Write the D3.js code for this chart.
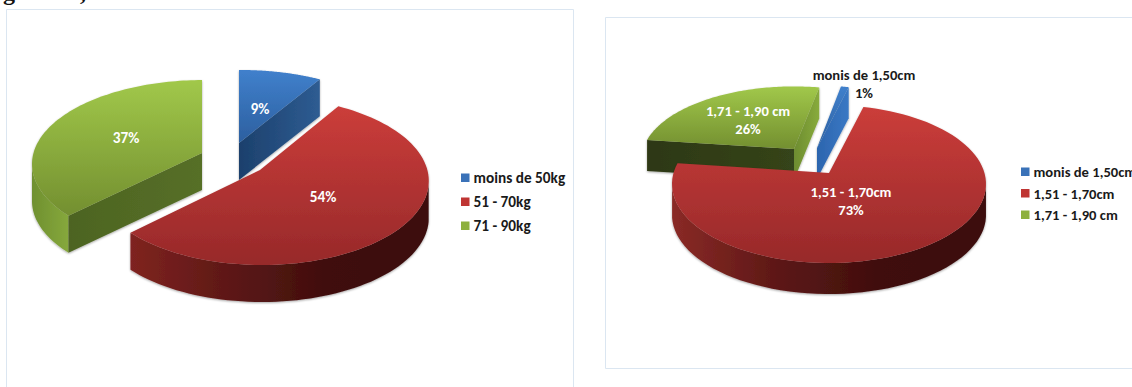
<!DOCTYPE html>
<html>
<head>
<meta charset="utf-8">
<script src="https://cdn.jsdelivr.net/npm/d3@7"></script>
<style>
html,body{margin:0;padding:0;background:#fff;overflow:hidden}
svg{display:block}
text{font-family:Carlito,"Open Sans","Noto Sans",sans-serif}
</style>
</head>
<body>
<svg id="view" width="1132" height="387"></svg>
<script>
// Weight distribution
const weightCategories = ["moins de 50kg", "51 - 70kg", "71 - 90kg"];
const weightValues = [9, 54, 37];
// Height distribution
const heightCategories = ["monis de 1,50cm", "1,51 - 1,70cm", "1,71 - 1,90 cm"];
const heightValues = [1, 73, 26];

const topRamps = [["#4080cc","#2c5f9f"],["#cb3d3a","#97292a"],["#a1c84a","#738f30"]];
const swatches = ["#3a72b8","#bf3533","#8db03d"];

const svg = d3.select("#view");
const defs = svg.append("defs");
const shadow = defs.append("filter").attr("id","soft").attr("x","-10%").attr("y","-10%").attr("width","120%").attr("height","125%");
shadow.append("feDropShadow").attr("dx",0).attr("dy",1).attr("stdDeviation",1.2).attr("flood-color","#000").attr("flood-opacity",0.35);

function gradient(id, colors, vertical){
  const g = defs.append("linearGradient").attr("id",id)
    .attr("x1",0).attr("y1",0).attr("x2",vertical?0:1).attr("y2",vertical?1:0);
  colors.forEach((c,i)=>g.append("stop").attr("offset",i/(colors.length-1)).attr("stop-color",c));
  return `url(#${id})`;
}

// Draws one tilted, exploded pie. Each slice sits on its own apex; its rim is where a
// foreshortened radial ray leaves an ellipse placed around that apex.
function tiltedPie(cfg){
  const root = svg.append("g");
  root.append("path").attr("d",cfg.frame).attr("fill","none").attr("stroke","#dbe6f1").attr("stroke-width",1);

  const arcs = d3.pie().sort(null).value(d=>d)
    .startAngle(cfg.start).endAngle(cfg.start+2*Math.PI)(cfg.values);

  const rim = (i,a)=>{
    const e = cfg.ellipse, s = cfg.scale[i];
    const dx = cfg.squash*Math.sin(a), dy = -Math.cos(a);
    const ux = dx/e.rx, uy = dy/e.ry;
    const vx = -e.cx/e.rx, vy = -e.cy/e.ry;
    const A = ux*ux+uy*uy, B = 2*(ux*vx+uy*vy), C = vx*vx+vy*vy-1;
    const t = (-B+Math.sqrt(B*B-4*A*C))/(2*A);
    return [s[0]*t*dx, s[1]*t*dy];
  };

  const pts = (i,a0,a1)=>d3.range(0,91).map(k=>{
    const p = rim(i,a0+(a1-a0)*k/90);
    return [cfg.apex[i][0]+p[0],cfg.apex[i][1]+p[1]];
  });
  const line = d3.line();

  cfg.order.forEach(i=>{
    const d = arcs[i], apex = cfg.apex[i], depth = cfg.depth;
    const g = root.append("g").attr("filter","url(#soft)");
    const rimPts = pts(i,d.startAngle,d.endAngle);
    const down = p=>[p[0],p[1]+depth];

    // outer wall: only the part of the rim that faces the viewer
    const front = rimPts.filter(p=>p[1]>=apex[1]+cfg.ellipse.cy*cfg.scale[i][1]);
    if(front.length>1){
      const wall = front.concat(front.slice().reverse().map(down));
      g.append("path").attr("d",line(wall)+"Z").attr("fill",gradient(`${cfg.id}w${i}`,cfg.wallRamp[i]));
    }
    // radial cut faces that turn towards the camera
    cfg.faces[i].forEach(f=>{
      const edge = f.side==="end"?rimPts[rimPts.length-1]:rimPts[0];
      const face=[apex,edge,down(edge),down(apex)];
      g.append("path").attr("d",line(face)+"Z").attr("fill",gradient(`${cfg.id}f${i}${f.side}`,f.ramp));
    });
    g.append("path").attr("d",line([apex].concat(rimPts))+"Z").attr("fill",gradient(`${cfg.id}t${i}`,topRamps[i],true));
  });

  // slice labels
  cfg.labels.forEach(l=>{
    const t = root.append("text").attr("text-anchor","middle").attr("font-size",cfg.labelSize).attr("font-weight",700).attr("fill",l.fill||"#fff");
    l.lines.forEach((s,k)=>t.append("tspan").attr("x",l.x).attr("y",l.y+k*18).text(s));
  });

  // legend
  const y = d3.scalePoint().domain(cfg.categories).range(cfg.legendY);
  const leg = root.append("g").selectAll("g").data(cfg.categories).join("g")
    .attr("transform",d=>`translate(${cfg.legendX},${y(d)})`);
  leg.append("rect").attr("x",0).attr("y",-4.5).attr("width",8.5).attr("height",8.5)
    .attr("fill",(d,i)=>swatches[i]);
  leg.append("text").attr("x",12.5).attr("y",5).attr("font-size",cfg.labelSize).attr("font-weight",700).attr("fill","#1a1a1a").text(d=>d);
}

// Tail of the body text line running above the first chart
const bodyText = svg.append("g").attr("font-size",24).attr("font-weight",700).attr("fill","#111");
bodyText.append("text").attr("x",3).attr("y",0).style("font-family","'Liberation Serif',serif").text("g");
bodyText.append("text").attr("x",80).attr("y",0).style("font-family","'Liberation Serif',serif").text(",");

tiltedPie({
  id:"w", values:weightValues, categories:weightCategories,
  start:0, squash:2, labelSize:15.3,
  frame:"M6.5,387V9.5H573.5V387",
  apex:[[239,143],[260,170],[202,153]],
  scale:[[1,1],[.97,1],[1,1]],
  ellipse:{cx:2,cy:11,rx:172,ry:84},
  depth:37, order:[2,0,1],
  faces:[[{side:"end",ramp:["#1c406c","#2e5c92"]}],[],[{side:"start",ramp:["#4d6421","#566f28"]}]],
  wallRamp:[["#1c406c","#2e5c92"],["#7f2320","#5d1816","#3f0e0d","#3c0d0c"],["#6f9030","#86a83c"]],
  labels:[{x:260,y:114,lines:["9%"]},{x:126,y:143,lines:["37%"]},{x:323,y:202,lines:["54%"]}],
  legendX:461, legendY:[178,226]
});

tiltedPie({
  id:"h", values:heightValues, categories:heightCategories,
  start:11*Math.PI/180, squash:2, labelSize:14.6,
  frame:"M1132,368.5H605.5V17.5H1132",
  apex:[[817,148],[829,173],[794,149]],
  scale:[[.92,.92],[1,1],[.97,.92]],
  ellipse:{cx:0,cy:11,rx:157,ry:79},
  depth:31, order:[2,0,1],
  faces:[[{side:"end",ramp:["#2c65ae","#3a78c4"]}],[],[{side:"start",ramp:["#2d3812","#35441a"]},{side:"end",ramp:["#6d8c30","#88ab3c"]}]],
  wallRamp:[["#2c65ae","#3a78c4"],["#8a2a26","#5d1816","#3f0e0d","#3c0d0c"],["#6d8c30","#6d8c30"]],
  labels:[{x:748,y:116,lines:["1,71 - 1,90 cm","26%"]},{x:851,y:197,lines:["1,51 - 1,70cm","73%"]},
          {x:864,y:80,lines:["monis de 1,50cm","1%"],fill:"#1a1a1a"}],
  legendX:1021, legendY:[172,215]
});
</script>
</body>
</html>
